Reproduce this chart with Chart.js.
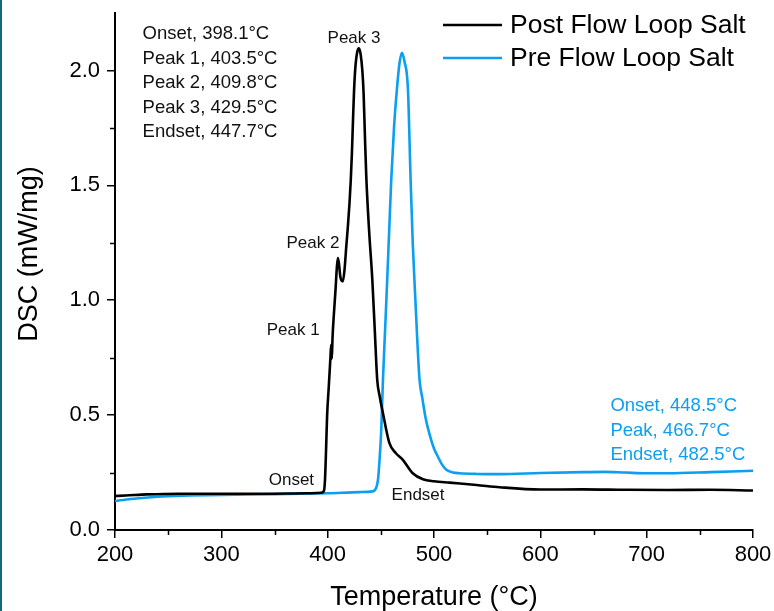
<!DOCTYPE html>
<html>
<head>
<meta charset="utf-8">
<script src="https://cdn.jsdelivr.net/npm/chart.js@4.4.1/dist/chart.umd.min.js"></script>
<style>
  html, body { margin: 0; padding: 0; background: #fff; }
  #wrap { position: relative; width: 774px; height: 611px; overflow: hidden; }
  #edge { position: absolute; left: 0; top: 0; width: 2px; height: 611px; background: #17687f; }
  canvas { position: absolute; left: 0; top: 0; }
</style>
</head>
<body>
<div id="wrap">
  <canvas id="c" width="774" height="611"></canvas>
  <div id="edge"></div>
</div>
<script>
// ---- Data ----
const postTemp = [200, 210, 230, 260, 300, 340, 380, 394, 396.5, 397.5, 398.5, 399.5, 401, 402.6, 403.3, 403.9, 404.6, 406, 407.4, 408.6, 409.6, 410.6, 412, 414.3, 415.8, 417.5, 419, 420.5, 421.7, 422.8, 423.8, 424.8, 426, 427.8, 429.4, 431, 432.6, 433.8, 435, 436.3, 439, 442, 444.5, 446.6, 449, 452, 458, 464, 470.7, 480, 489.6, 500, 514.7, 540, 561.7, 600, 640, 680, 720, 760, 800];
const postDSC  = [0.148, 0.150, 0.155, 0.158, 0.158, 0.158, 0.160, 0.162, 0.170, 0.22, 0.35, 0.50, 0.62, 0.75, 0.806, 0.745, 0.84, 0.95, 1.046, 1.14, 1.184, 1.16, 1.10, 1.082, 1.13, 1.234, 1.32, 1.42, 1.52, 1.64, 1.78, 1.91, 2.01, 2.08, 2.096, 2.07, 2.00, 1.90, 1.72, 1.54, 1.30, 1.089, 0.85, 0.654, 0.58, 0.508, 0.379, 0.335, 0.305, 0.247, 0.221, 0.212, 0.206, 0.196, 0.186, 0.176, 0.177, 0.175, 0.174, 0.175, 0.172];

const preTemp = [200, 215, 240, 270, 300, 350, 400, 430, 442, 445, 447.3, 449, 450.4, 452, 454, 456, 458, 459.8, 462.5, 465.1, 467.5, 469.8, 472.2, 475.5, 478, 480, 482.5, 486.4, 489, 492, 495.9, 500, 503.7, 507, 511.6, 518, 524, 540, 561.7, 600, 640, 660, 680, 700, 720, 760, 800];
const preDSC  = [0.126, 0.135, 0.145, 0.150, 0.153, 0.156, 0.160, 0.165, 0.168, 0.178, 0.218, 0.32, 0.436, 0.654, 0.87, 1.09, 1.32, 1.525, 1.76, 1.917, 2.03, 2.077, 2.04, 1.917, 1.525, 1.25, 1.0, 0.654, 0.575, 0.49, 0.415, 0.355, 0.319, 0.289, 0.262, 0.25, 0.247, 0.244, 0.243, 0.248, 0.252, 0.253, 0.250, 0.247, 0.247, 0.252, 0.258];

const seriesNames = ['Post Flow Loop Salt', 'Pre Flow Loop Salt'];
const xTicksMajor = [200, 300, 400, 500, 600, 700, 800];
const xTicksMinor = [250, 350, 450, 550, 650, 750];
const yTicksMajor = [0.0, 0.5, 1.0, 1.5, 2.0];
const yTicksMinor = [0.25, 0.75, 1.25, 1.75];

const postNotes = ['Onset, 398.1°C', 'Peak 1, 403.5°C', 'Peak 2, 409.8°C', 'Peak 3, 429.5°C', 'Endset, 447.7°C'];
const preNotes  = ['Onset, 448.5°C', 'Peak, 466.7°C', 'Endset, 482.5°C'];
const pointLabels = ['Peak 3', 'Peak 2', 'Peak 1', 'Onset', 'Endset'];
const pointLabelAt = [[424.8, 2.142], [386.1, 1.249], [367.6, 0.868], [365.9, 0.218], [485.0, 0.1525]];

const BLACK = '#000000';
const BLUE = '#0c9ff0';
const FONT = "'Liberation Sans', Arial, sans-serif";

const toXY = (xs, ys) => xs.map((v, i) => ({x: v, y: ys[i]}));

const overlay = {
  id: 'overlay',
  afterDraw(chart) {
    const {ctx, scales: {x, y}, chartArea} = chart;
    ctx.save();
    // minor ticks
    ctx.strokeStyle = '#000';
    ctx.lineWidth = 1.5;
    xTicksMinor.forEach(v => {
      const px = Math.round(x.getPixelForValue(v)) + 0.5;
      ctx.beginPath(); ctx.moveTo(px, chartArea.bottom); ctx.lineTo(px, chartArea.bottom + 5); ctx.stroke();
    });
    yTicksMinor.forEach(v => {
      const py = Math.round(y.getPixelForValue(v)) + 0.5;
      ctx.beginPath(); ctx.moveTo(chartArea.left, py); ctx.lineTo(chartArea.left - 5, py); ctx.stroke();
    });

    // y axis title
    ctx.save();
    ctx.translate(30, 254);
    ctx.rotate(-Math.PI / 2);
    ctx.font = '27px ' + FONT;
    ctx.fillStyle = '#000';
    ctx.textAlign = 'center';
    ctx.textBaseline = 'middle';
    ctx.fillText('DSC (mW/mg)', 0, 0);
    ctx.restore();

    // point labels
    ctx.fillStyle = '#111';
    ctx.font = '17px ' + FONT;
    ctx.textAlign = 'center';
    ctx.textBaseline = 'middle';
    pointLabels.forEach((t, i) => {
      ctx.fillText(t, x.getPixelForValue(pointLabelAt[i][0]), y.getPixelForValue(pointLabelAt[i][1]));
    });

    // text blocks
    ctx.font = '18.5px ' + FONT;
    ctx.textAlign = 'left';
    const lineGap = 24.5;
    let bx = x.getPixelForValue(225.9), by = y.getPixelForValue(2.157);
    ctx.fillStyle = '#111';
    postNotes.forEach((t, i) => ctx.fillText(t, bx, by + i * lineGap));
    bx = x.getPixelForValue(665.9); by = y.getPixelForValue(0.540);
    ctx.fillStyle = BLUE;
    preNotes.forEach((t, i) => ctx.fillText(t, bx, by + i * lineGap));

    // legend
    const ds = chart.data.datasets;
    const lx0 = 443, lx1 = 502, ly = [25, 58];
    ctx.font = '26.5px ' + FONT;
    ds.forEach((d, i) => {
      ctx.strokeStyle = d.borderColor;
      ctx.lineWidth = 2.5;
      ctx.beginPath(); ctx.moveTo(lx0, ly[i]); ctx.lineTo(lx1, ly[i]); ctx.stroke();
      ctx.fillStyle = '#000';
      ctx.fillText(d.label, 510, ly[i] + 1);
    });
    ctx.restore();
  }
};

Chart.defaults.font.family = FONT;
Chart.defaults.color = '#000';

const zeroPad = s => { s.paddingTop = 0; s.paddingBottom = 0; s.paddingLeft = 0; s.paddingRight = 0; };

new Chart(document.getElementById('c'), {
  type: 'line',
  data: {
    datasets: [
      { label: seriesNames[0], data: toXY(postTemp, postDSC), borderColor: BLACK, borderWidth: 2.6, pointRadius: 0, cubicInterpolationMode: 'monotone', fill: false },
      { label: seriesNames[1], data: toXY(preTemp, preDSC), borderColor: BLUE, borderWidth: 2.6, pointRadius: 0, cubicInterpolationMode: 'monotone', fill: false }
    ]
  },
  options: {
    responsive: false,
    animation: false,
    events: [],
    layout: { padding: { left: 0, right: 21, top: 13, bottom: 0 } },
    plugins: { legend: { display: false }, tooltip: { enabled: false } },
    scales: {
      x: {
        type: 'linear', position: 'bottom', min: 200, max: 800,
        afterBuildTicks: s => { s.ticks = xTicksMajor.map(v => ({value: v})); },
        ticks: { font: { size: 22 }, padding: 4, color: '#000', maxRotation: 0, callback: v => String(v) },
        grid: { display: true, drawOnChartArea: false, drawTicks: true, tickLength: 8, color: '#000', lineWidth: 1.5 },
        border: { display: true, color: '#000', width: 2 },
        title: { display: true, text: 'Temperature (°C)', font: { size: 27, lineHeight: 1 }, padding: { top: 0, bottom: 0 }, color: '#000' },
        afterFit: s => { s.height = 81; zeroPad(s); }
      },
      y: {
        type: 'linear', position: 'left', min: 0, max: 2.25,
        afterBuildTicks: s => { s.ticks = yTicksMajor.map(v => ({value: v})); },
        ticks: { font: { size: 22 }, padding: 7, color: '#000', callback: v => Number(v).toFixed(1) },
        grid: { display: true, drawOnChartArea: false, drawTicks: true, tickLength: 8, color: '#000', lineWidth: 1.5 },
        border: { display: true, color: '#000', width: 2 },
        title: { display: false },
        afterFit: s => { s.width = 115; zeroPad(s); }
      }
    }
  },
  plugins: [overlay]
});
</script>
</body>
</html>
